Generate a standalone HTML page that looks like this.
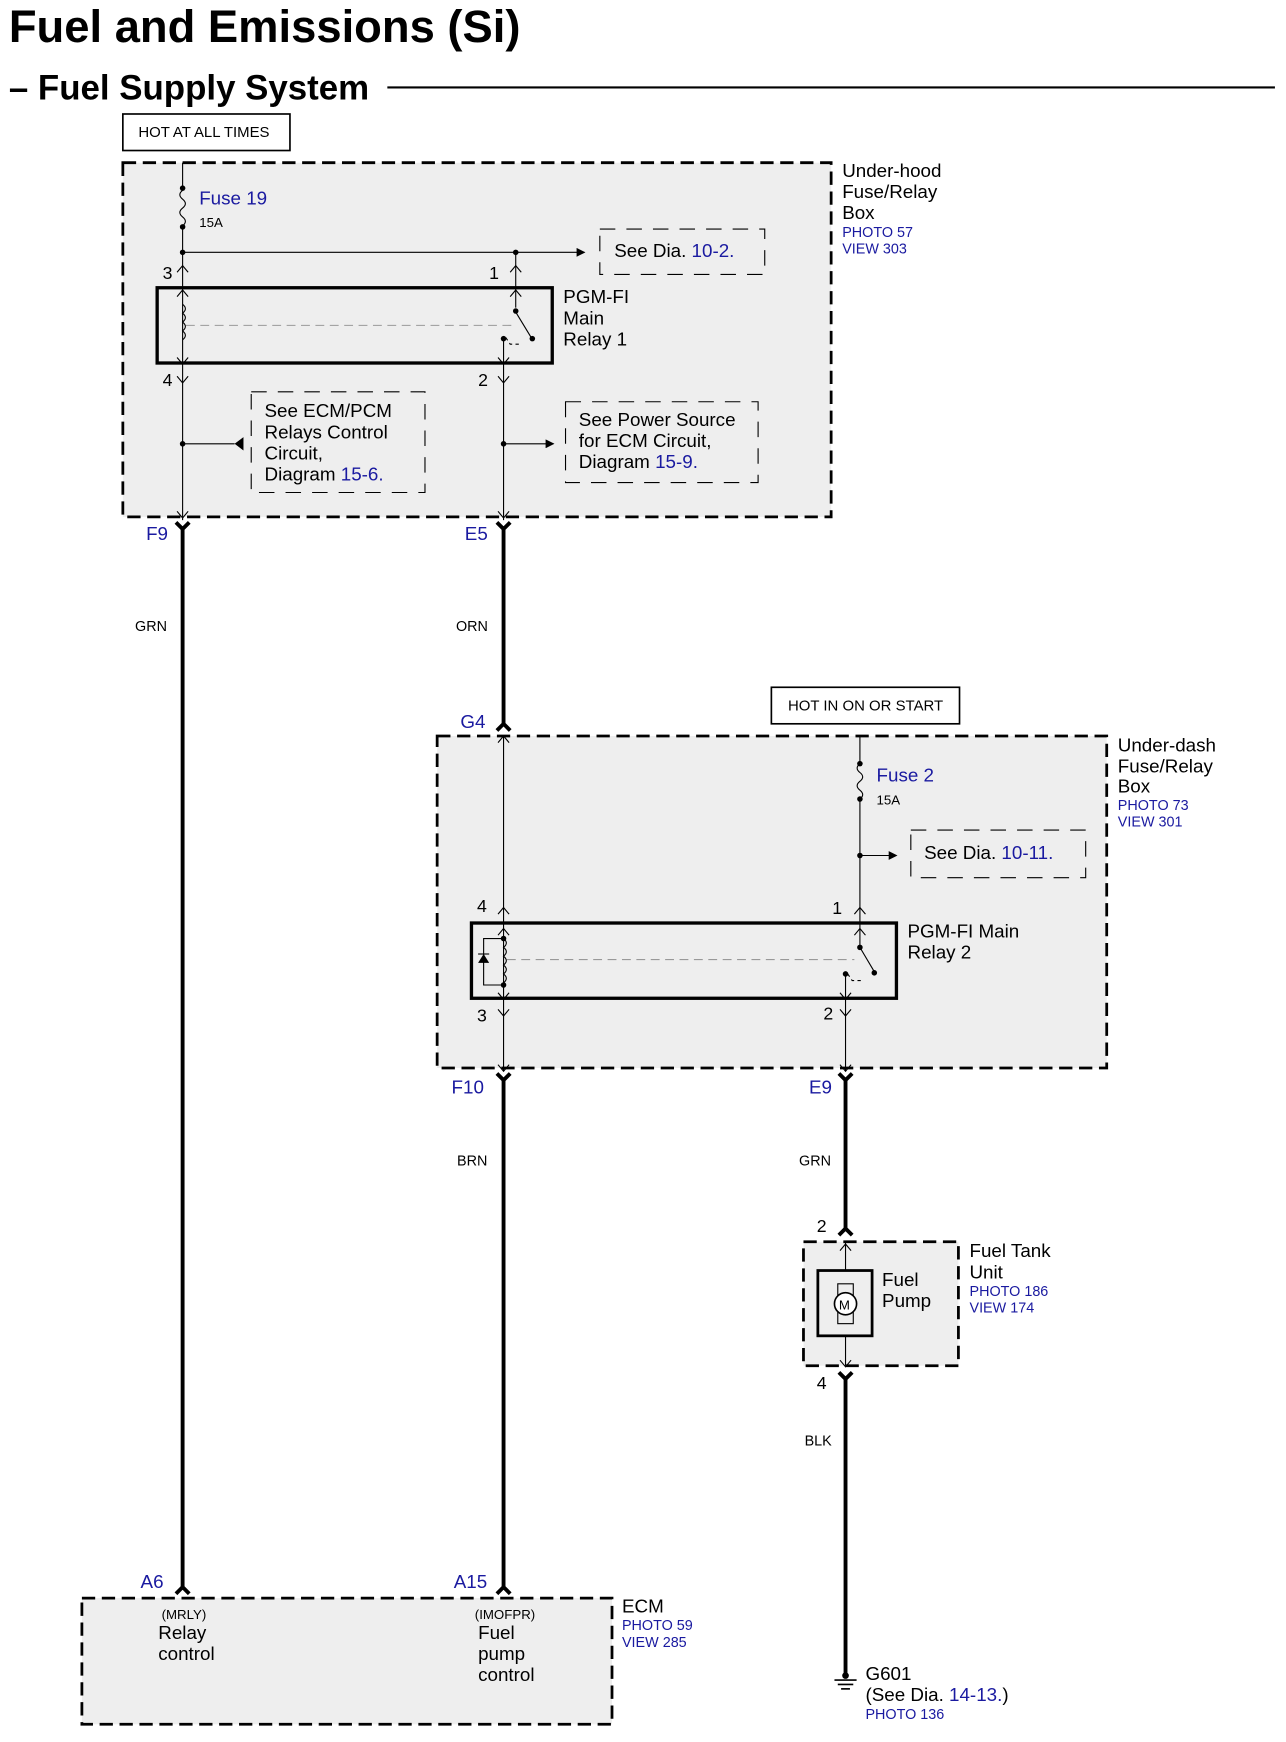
<!DOCTYPE html>
<html><head><meta charset="utf-8"><style>
html,body{margin:0;padding:0;background:#fff}
svg{display:block}
text{font-family:"Liberation Sans",Arial,sans-serif}
.b{fill:#1a1aa0}
</style></head><body>
<svg width="1286" height="1742" viewBox="0 0 1162 1574" preserveAspectRatio="none">
<defs>
<marker id="ar" markerWidth="8" markerHeight="8" refX="7" refY="4" orient="auto" markerUnits="userSpaceOnUse"><path d="M0,0 L8,4 L0,8z" fill="#000"/></marker>
</defs>
<text x="8" y="38" font-size="41" font-weight="bold">Fuel and Emissions (Si)</text>
<text x="8" y="90" font-size="31.5" font-weight="bold">– Fuel Supply System</text>
<line x1="350" y1="79" x2="1152" y2="79" stroke="#000" stroke-width="2"/>

<rect x="111" y="103" width="151" height="33" fill="#fff" stroke="#000" stroke-width="1.5"/>
<text x="125" y="124" font-size="13.5">HOT AT ALL TIMES</text>

<rect x="111" y="147" width="640" height="320" fill="#eee" stroke="#000" stroke-width="2.5" stroke-dasharray="12,6"/>
<text x="761" y="160" font-size="17">Under-hood</text>
<text x="761" y="179" font-size="17">Fuse/Relay</text>
<text x="761" y="198" font-size="17">Box</text>
<text x="761" y="214" font-size="13" class="b">PHOTO 57</text>
<text x="761" y="229" font-size="13" class="b">VIEW 303</text>

<g stroke="#000" stroke-width="1" fill="none">
<line x1="165" y1="147" x2="165" y2="172"/>
<path d="M165,172 q-5,4 0,8 q5,4 0,8 q-5,4 0,8 q5,4 0,8"/>
<line x1="165" y1="204" x2="165" y2="470"/>
<line x1="165" y1="228" x2="528" y2="228" marker-end="url(#ar)"/>
<line x1="466" y1="228" x2="466" y2="278"/>
<line x1="455" y1="305" x2="455" y2="470"/>
<path d="M160,246 l5,-6 l5,6 M160,268 l5,-6 l5,6 M160,323 l5,6 l5,-6 M160,340 l5,6 l5,-6 M461,246 l5,-6 l5,6 M461,268 l5,-6 l5,6 M450,323 l5,6 l5,-6 M450,340 l5,6 l5,-6 M160,462 l5,6 l5,-6 M450,462 l5,6 l5,-6"/>
<path d="M165,275 q5,4 0,8 q5,4 0,8 q5,4 0,8 q5,4 0,8"/>
<line x1="168" y1="294" x2="462" y2="294" stroke="#999" stroke-dasharray="8,5"/>
<line x1="466" y1="282" x2="480" y2="305"/>
<path d="M457,305 l4,6 h10" stroke-dasharray="3,3"/>
<line x1="165" y1="401" x2="212" y2="401"/>
<line x1="455" y1="401" x2="500" y2="401" marker-end="url(#ar)"/>
</g>
<path d="M220,395 L212,401 L220,407z" fill="#000"/>
<g fill="#000">
<circle cx="165" cy="170" r="2.5"/><circle cx="165" cy="205" r="2.5"/>
<circle cx="165" cy="228" r="2.5"/><circle cx="466" cy="228" r="2.5"/>
<circle cx="466" cy="281" r="2.5"/><circle cx="481" cy="306" r="2.5"/><circle cx="455" cy="306" r="2.5"/>
<circle cx="165" cy="401" r="2.5"/><circle cx="455" cy="401" r="2.5"/>
</g>
<text x="180" y="185" font-size="17" class="b">Fuse 19</text>
<text x="180" y="205" font-size="12">15A</text>
<rect x="542" y="207" width="149" height="41" fill="none" stroke="#000" stroke-dasharray="14,10"/>
<text x="555" y="232" font-size="17">See  Dia. <tspan class="b">10-2.</tspan></text>
<text x="147" y="252" font-size="16">3</text>
<text x="442" y="252" font-size="16">1</text>
<rect x="142" y="260" width="357" height="68" fill="none" stroke="#000" stroke-width="3"/>
<text x="509" y="274" font-size="17">PGM-FI</text>
<text x="509" y="293" font-size="17">Main</text>
<text x="509" y="312" font-size="17">Relay 1</text>
<text x="147" y="349" font-size="16">4</text>
<text x="432" y="349" font-size="16">2</text>
<rect x="227" y="354" width="157" height="91" fill="none" stroke="#000" stroke-dasharray="14,10"/>
<text x="239" y="377" font-size="17">See ECM/PCM</text>
<text x="239" y="396" font-size="17">Relays Control</text>
<text x="239" y="415" font-size="17">Circuit,</text>
<text x="239" y="434" font-size="17">Diagram <tspan class="b">15-6.</tspan></text>
<rect x="511" y="363" width="174" height="73" fill="none" stroke="#000" stroke-dasharray="14,10"/>
<text x="523" y="385" font-size="17">See Power Source</text>
<text x="523" y="404" font-size="17">for ECM Circuit,</text>
<text x="523" y="423" font-size="17">Diagram <tspan class="b">15-9.</tspan></text>

<g stroke="#000" stroke-width="3.5" fill="none">
<path d="M159,472 l6,6 l6,-6"/><line x1="165" y1="476" x2="165" y2="1436"/>
<path d="M449,472 l6,6 l6,-6"/><line x1="455" y1="476" x2="455" y2="654"/>
<path d="M449,660 l6,-6 l6,6"/>
<path d="M449,970 l6,6 l6,-6"/><line x1="455" y1="974" x2="455" y2="1436"/>
<path d="M159,1440 l6,-6 l6,6"/><path d="M449,1440 l6,-6 l6,6"/>
<path d="M758,970 l6,6 l6,-6"/><line x1="764" y1="974" x2="764" y2="1112"/>
<path d="M758,1116 l6,-6 l6,6"/>
<path d="M758,1240 l6,6 l6,-6"/><line x1="764" y1="1244" x2="764" y2="1512"/>
</g>
<text x="132" y="488" font-size="17" class="b">F9</text>
<text x="420" y="488" font-size="17" class="b">E5</text>
<text x="122" y="570" font-size="13">GRN</text>
<text x="412" y="570" font-size="13">ORN</text>

<rect x="697" y="621" width="170" height="33" fill="#fff" stroke="#000" stroke-width="1.5"/>
<text x="712" y="642" font-size="13.5">HOT IN ON OR START</text>
<text x="416" y="658" font-size="17" class="b">G4</text>

<rect x="395" y="665" width="605" height="300" fill="#eee" stroke="#000" stroke-width="2.5" stroke-dasharray="12,6"/>
<text x="1010" y="679" font-size="17">Under-dash</text>
<text x="1010" y="698" font-size="17">Fuse/Relay</text>
<text x="1010" y="716" font-size="17">Box</text>
<text x="1010" y="732" font-size="13" class="b">PHOTO 73</text>
<text x="1010" y="747" font-size="13" class="b">VIEW 301</text>
<g stroke="#000" stroke-width="1" fill="none">
<line x1="455" y1="665" x2="455" y2="968"/>
<line x1="777" y1="665" x2="777" y2="690"/>
<path d="M777,690 q-5,4 0,8 q5,4 0,8 q-5,4 0,8 q5,4 0,8"/>
<line x1="777" y1="722" x2="777" y2="856"/>
<line x1="777" y1="773" x2="810" y2="773" marker-end="url(#ar)"/>
<line x1="764" y1="880" x2="764" y2="968"/>
<path d="M450,671 l5,-6 l5,6 M450,826 l5,-6 l5,6 M450,845 l5,-6 l5,6 M450,897 l5,6 l5,-6 M450,912 l5,6 l5,-6 M450,962 l5,6 l5,-6 M772,826 l5,-6 l5,6 M772,845 l5,-6 l5,6 M759,897 l5,6 l5,-6 M759,912 l5,6 l5,-6 M759,962 l5,6 l5,-6"/>
<path d="M455,848 q5,4 0,8 q5,4 0,8 q5,4 0,8 q5,4 0,8 q5,4 0,8"/>
<path d="M455,848 h-18 v42 h18"/>
<line x1="432" y1="862" x2="442" y2="862"/>
<line x1="458" y1="867" x2="772" y2="867" stroke="#999" stroke-dasharray="8,5"/>
<line x1="777" y1="856" x2="790" y2="878"/>
<path d="M766,880 l4,6 h10" stroke-dasharray="3,3"/>
</g>
<path d="M432,870 L437,862 L442,870z" fill="#000"/>
<g fill="#000">
<circle cx="777" cy="690" r="2.5"/><circle cx="777" cy="722" r="2.5"/><circle cx="777" cy="773" r="2.5"/>
<circle cx="455" cy="848" r="2.5"/><circle cx="455" cy="890" r="2.5"/>
<circle cx="777" cy="856" r="2.5"/><circle cx="790" cy="879" r="2.5"/><circle cx="764" cy="880" r="2.5"/>
</g>
<text x="792" y="706" font-size="17" class="b">Fuse 2</text>
<text x="792" y="727" font-size="12">15A</text>
<rect x="823" y="750" width="158" height="43" fill="none" stroke="#000" stroke-dasharray="14,10"/>
<text x="835" y="776" font-size="17">See  Dia. <tspan class="b">10-11.</tspan></text>
<text x="431" y="824" font-size="16">4</text>
<text x="752" y="826" font-size="16">1</text>
<rect x="426" y="834" width="384" height="68" fill="none" stroke="#000" stroke-width="3"/>
<text x="820" y="847" font-size="17">PGM-FI Main</text>
<text x="820" y="866" font-size="17">Relay 2</text>
<text x="431" y="923" font-size="16">3</text>
<text x="744" y="921" font-size="16">2</text>
<text x="408" y="988" font-size="17" class="b">F10</text>
<text x="731" y="988" font-size="17" class="b">E9</text>
<text x="413" y="1053" font-size="13">BRN</text>
<text x="722" y="1053" font-size="13">GRN</text>

<text x="738" y="1113" font-size="16">2</text>
<rect x="726" y="1122" width="140" height="112" fill="#eee" stroke="#000" stroke-width="2.5" stroke-dasharray="12,6"/>
<g stroke="#000" fill="none">
<line x1="764" y1="1122" x2="764" y2="1148"/><line x1="764" y1="1207" x2="764" y2="1234"/>
<path d="M759,1130 l5,-6 l5,6 M759,1229 l5,6 l5,-6"/>
<rect x="739" y="1148" width="49" height="59" stroke-width="2.5"/>
<rect x="757" y="1160" width="14" height="36" stroke-width="1"/>
<circle cx="764" cy="1178" r="10" fill="#fff" stroke-width="1.5"/>
</g>
<text x="758" y="1183" font-size="12">M</text>
<text x="797" y="1162" font-size="17">Fuel</text>
<text x="797" y="1181" font-size="17">Pump</text>
<text x="876" y="1136" font-size="17">Fuel Tank</text>
<text x="876" y="1155" font-size="17">Unit</text>
<text x="876" y="1171" font-size="13" class="b">PHOTO 186</text>
<text x="876" y="1186" font-size="13" class="b">VIEW 174</text>
<text x="738" y="1255" font-size="16">4</text>
<text x="727" y="1306" font-size="13">BLK</text>
<circle cx="764" cy="1514" r="3" fill="#000"/>
<g stroke="#000" stroke-width="1.5"><line x1="754" y1="1518" x2="774" y2="1518"/><line x1="757" y1="1522" x2="771" y2="1522"/><line x1="760" y1="1526" x2="768" y2="1526"/></g>
<text x="782" y="1518" font-size="17">G601</text>
<text x="782" y="1537" font-size="17">(See  Dia.  <tspan class="b">14-13.</tspan>)</text>
<text x="782" y="1553" font-size="13" class="b">PHOTO 136</text>

<text x="127" y="1435" font-size="17" class="b">A6</text>
<text x="410" y="1435" font-size="17" class="b">A15</text>
<rect x="74" y="1444" width="479" height="114" fill="#eee" stroke="#000" stroke-width="2.5" stroke-dasharray="12,6"/>
<text x="146" y="1463" font-size="12">(MRLY)</text>
<text x="143" y="1481" font-size="17">Relay</text>
<text x="143" y="1500" font-size="17">control</text>
<text x="429" y="1463" font-size="12">(IMOFPR)</text>
<text x="432" y="1481" font-size="17">Fuel</text>
<text x="432" y="1500" font-size="17">pump</text>
<text x="432" y="1519" font-size="17">control</text>
<text x="562" y="1457" font-size="17">ECM</text>
<text x="562" y="1473" font-size="13" class="b">PHOTO 59</text>
<text x="562" y="1488" font-size="13" class="b">VIEW 285</text>
</svg>
</body></html>
